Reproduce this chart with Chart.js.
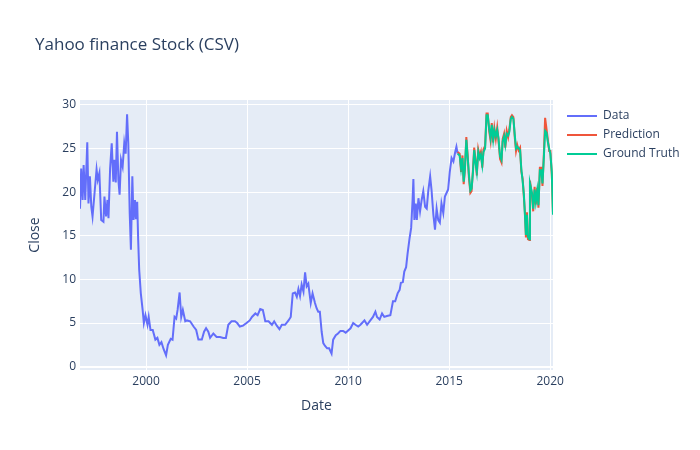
<!DOCTYPE html>
<html><head><meta charset="utf-8">
<script src="https://cdn.jsdelivr.net/npm/chart.js@4.4.1/dist/chart.umd.min.js"></script>
<style>html,body{margin:0;padding:0;background:#fff;}</style>
</head><body>
<canvas id="c" width="700" height="450" style="width:700px;height:450px;display:block"></canvas>
<script>
const chartTitle = 'Yahoo finance Stock (CSV)';
const xAxisTitle = 'Date';
const yAxisTitle = 'Close';
const seriesNames = ['Data', 'Prediction', 'Ground Truth'];
const seriesColors = ['#636efa', '#EF553B', '#00cc96'];
const xTicks = [2000, 2005, 2010, 2015, 2020];
const yTicks = [0, 5, 10, 15, 20, 25, 30];

const dataDates = [1996.73,1996.79,1996.86,1996.91,1996.99,1997.09,1997.15,1997.22,1997.29,1997.35,1997.45,1997.55,1997.61,1997.69,1997.78,1997.89,1997.94,1998.02,1998.09,1998.14,1998.22,1998.30,1998.38,1998.43,1998.50,1998.56,1998.63,1998.69,1998.76,1998.84,1998.92,1998.99,1999.06,1999.12,1999.19,1999.25,1999.32,1999.38,1999.45,1999.50,1999.56,1999.61,1999.66,1999.74,1999.83,1999.89,1999.97,2000.07,2000.13,2000.22,2000.33,2000.46,2000.56,2000.66,2000.76,2000.87,2000.99,2001.08,2001.22,2001.31,2001.41,2001.49,2001.56,2001.66,2001.74,2001.82,2001.94,2002.02,2002.18,2002.35,2002.48,2002.59,2002.76,2002.87,2002.97,2003.08,2003.17,2003.33,2003.49,2003.66,2003.82,2003.95,2004.07,2004.23,2004.40,2004.51,2004.64,2004.80,2004.97,2005.13,2005.24,2005.41,2005.52,2005.65,2005.78,2005.90,2006.06,2006.23,2006.34,2006.47,2006.60,2006.72,2006.88,2007.05,2007.16,2007.26,2007.37,2007.46,2007.54,2007.62,2007.70,2007.79,2007.87,2007.95,2008.03,2008.15,2008.24,2008.36,2008.44,2008.52,2008.60,2008.69,2008.77,2008.85,2008.96,2009.06,2009.18,2009.26,2009.39,2009.50,2009.62,2009.75,2009.88,2010.12,2010.25,2010.36,2010.50,2010.61,2010.69,2010.81,2010.94,2011.10,2011.23,2011.35,2011.43,2011.56,2011.68,2011.79,2011.92,2012.09,2012.22,2012.33,2012.45,2012.55,2012.61,2012.71,2012.78,2012.87,2012.94,2013.04,2013.12,2013.19,2013.23,2013.28,2013.35,2013.40,2013.48,2013.56,2013.64,2013.72,2013.81,2013.89,2013.97,2014.06,2014.13,2014.22,2014.30,2014.38,2014.46,2014.54,2014.62,2014.71,2014.79,2014.87,2014.95,2015.03,2015.12,2015.21,2015.30,2015.36,2015.42];
const dataClose = [18.1,22.7,19.1,23.1,19.1,25.7,18.7,21.8,18.3,17.2,19.9,22.6,21.4,22.2,16.8,16.6,19.5,17.2,19.1,17.0,22.7,25.6,21.2,23.7,21.1,26.9,21.4,19.7,23.7,22.9,25.6,24.4,28.9,25.6,17.6,13.4,21.8,16.8,19.1,16.9,18.9,14.5,11.1,8.4,6.5,5.0,5.9,4.8,5.7,4.2,4.2,3.1,3.3,2.5,2.8,2.0,1.3,2.5,3.2,3.1,5.7,5.5,6.5,8.5,5.7,6.5,5.2,5.3,5.2,4.6,4.2,3.1,3.1,4.0,4.4,4.0,3.3,3.8,3.4,3.4,3.3,3.3,4.8,5.2,5.2,5.0,4.6,4.7,5.0,5.3,5.7,6.1,5.9,6.6,6.5,5.2,5.2,4.8,5.2,4.7,4.3,4.8,4.8,5.3,5.7,8.4,8.5,8.0,8.9,8.1,9.4,8.6,10.8,9.2,9.5,7.3,8.4,7.3,6.7,6.3,6.3,4.0,2.7,2.4,2.1,2.1,1.5,3.1,3.6,3.8,4.1,4.1,3.9,4.4,5.0,4.8,4.6,4.8,5.0,5.3,4.8,5.3,5.7,6.3,5.7,5.4,6.1,5.7,5.8,5.9,7.5,7.5,8.4,8.8,9.6,9.7,10.9,11.4,12.9,14.7,15.9,19.1,21.5,16.8,18.7,16.8,19.3,17.8,19.1,20.1,18.3,18.1,20.2,21.8,20.2,17.4,15.7,18.1,16.8,16.5,18.7,17.6,19.5,19.9,20.3,22.3,23.9,23.5,24.6,25.2,24.4];

const testDates = [2015.42,2015.52,2015.59,2015.66,2015.72,2015.78,2015.85,2015.92,2015.98,2016.05,2016.11,2016.18,2016.24,2016.31,2016.37,2016.44,2016.51,2016.57,2016.64,2016.70,2016.78,2016.85,2016.91,2016.98,2017.05,2017.11,2017.18,2017.24,2017.31,2017.38,2017.44,2017.52,2017.59,2017.65,2017.72,2017.78,2017.85,2017.92,2017.98,2018.05,2018.11,2018.18,2018.25,2018.31,2018.37,2018.44,2018.51,2018.57,2018.64,2018.70,2018.75,2018.80,2018.85,2018.90,2018.97,2019.00,2019.10,2019.16,2019.23,2019.29,2019.36,2019.42,2019.49,2019.56,2019.62,2019.69,2019.75,2019.82,2019.88,2019.95,2020.01,2020.08,2020.14];
const predClose = [24.6,24.4,22.3,24.2,20.9,22.5,26.3,24.1,21.6,19.9,20.1,22.6,25.1,23.6,21.9,24.9,24.1,24.6,22.8,24.9,25.3,29.0,29.0,27.0,25.9,27.9,25.7,27.3,26.1,27.4,26.0,23.8,23.4,26.1,26.7,25.1,27.0,26.3,27.2,28.6,28.8,28.6,26.2,24.7,25.4,24.8,25.1,22.4,21.5,19.4,17.7,14.8,17.7,14.6,14.5,21.3,19.6,17.8,20.6,18.6,20.5,18.2,22.8,22.8,20.7,24.5,28.5,27.2,26.1,24.7,24.7,22.0,17.6];
const truthClose = [24.4,24.2,22.7,23.9,21.2,22.7,26.0,23.9,22.0,20.2,20.4,22.3,24.8,23.3,22.3,24.6,23.9,24.3,23.1,24.6,25.0,28.8,28.8,27.3,26.2,27.7,26.0,27.1,26.4,27.1,26.2,24.1,23.7,25.8,26.4,25.4,26.7,26.5,26.9,28.4,28.6,28.4,26.5,25.0,25.2,25.0,24.8,22.7,21.2,19.7,17.4,15.1,17.4,14.9,14.6,21.0,19.9,18.1,20.3,18.9,20.2,18.5,22.5,22.5,21.0,24.1,27.0,26.8,25.8,25.0,24.4,22.3,17.4];

const toPoints = (xs, ys) => xs.map((x, i) => ({x: x, y: ys[i]}));
const FONT = '"Open Sans", verdana, arial, sans-serif';
const TXT = '#2a3f5f';

Chart.defaults.font.family = FONT;
Chart.defaults.color = TXT;

const plotBg = {
  id: 'plotBg',
  beforeDraw(chart) {
    const a = chart.chartArea, ctx = chart.ctx;
    ctx.save();
    ctx.fillStyle = '#E5ECF6';
    ctx.fillRect(a.left, a.top, a.right - a.left, a.bottom - a.top);
    ctx.restore();
  }
};

const sideLegend = {
  id: 'sideLegend',
  afterDraw(chart) {
    const a = chart.chartArea, ctx = chart.ctx;
    ctx.save();
    ctx.font = '12px ' + FONT;
    ctx.textBaseline = 'middle';
    ctx.textAlign = 'left';
    chart.data.datasets.forEach((ds, i) => {
      const y = a.top + 16 + i * 19;
      const x0 = a.right + 14;
      ctx.strokeStyle = ds.borderColor;
      ctx.lineWidth = 2;
      ctx.beginPath();
      ctx.moveTo(x0, y);
      ctx.lineTo(x0 + 30, y);
      ctx.stroke();
      ctx.fillStyle = TXT;
      ctx.fillText(ds.label, x0 + 36, y);
    });
    ctx.restore();
  }
};

new Chart(document.getElementById('c'), {
  type: 'line',
  data: {
    datasets: [
      {label: seriesNames[0], data: toPoints(dataDates, dataClose), borderColor: seriesColors[0], order: 3},
      {label: seriesNames[1], data: toPoints(testDates, predClose), borderColor: seriesColors[1], order: 2},
      {label: seriesNames[2], data: toPoints(testDates, truthClose), borderColor: seriesColors[2], order: 1}
    ]
  },
  options: {
    responsive: false,
    animation: false,
    devicePixelRatio: 1,
    elements: {
      line: {borderWidth: 2, tension: 0, fill: false},
      point: {radius: 0, hoverRadius: 0}
    },
    layout: {padding: {left: 35, right: 147, top: 0, bottom: 0}},
    plugins: {
      legend: {display: false},
      tooltip: {enabled: false},
      title: {
        display: true, text: chartTitle, align: 'start', color: TXT,
        font: {size: 17, weight: 'normal', family: FONT, lineHeight: 1.2},
        padding: {top: 34.8, bottom: 44.8}
      }
    },
    scales: {
      x: {
        type: 'linear', min: 1996.73, max: 2020.14,
        afterBuildTicks(s) { s.ticks = xTicks.map(v => ({value: v})); },
        afterFit(s) { s.height = 80; },
        ticks: {color: TXT, font: {size: 12}, padding: 4, maxRotation: 0, callback: v => String(v)},
        grid: {color: '#ffffff', lineWidth: 1, drawTicks: false},
        border: {display: false},
        title: {display: true, text: xAxisTitle, color: TXT, font: {size: 14, lineHeight: 1.2}, padding: {top: 0, bottom: 35.6}}
      },
      y: {
        type: 'linear', min: -0.38, max: 30.55,
        afterBuildTicks(s) { s.ticks = yTicks.map(v => ({value: v})); },
        afterFit(s) { s.width = 45; },
        ticks: {color: TXT, font: {size: 12}, padding: 4, callback: v => String(v)},
        grid: {color: '#ffffff', lineWidth: c => (c.tick && c.tick.value === 0 ? 2 : 1), drawTicks: false},
        border: {display: false},
        title: {display: true, text: yAxisTitle, color: TXT, font: {size: 14, lineHeight: 1.2}, padding: {top: -8, bottom: 0}}
      }
    }
  },
  plugins: [plotBg, sideLegend]
});
</script>
</body></html>
